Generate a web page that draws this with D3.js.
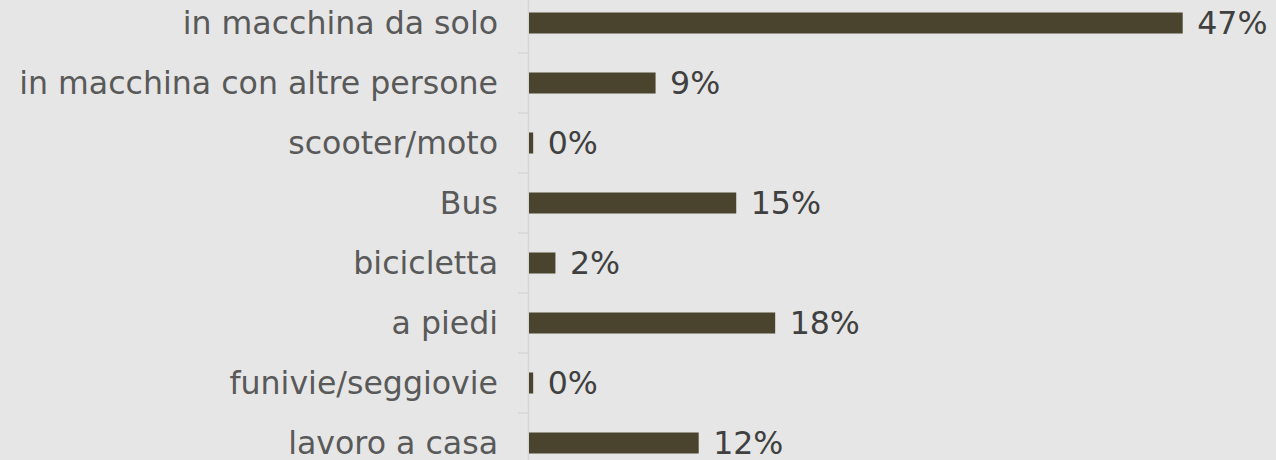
<!DOCTYPE html>
<html>
<head>
<meta charset="utf-8">
<script src="https://cdn.jsdelivr.net/npm/d3@7"></script>
<style>
  html, body { margin: 0; padding: 0; background: #e5e6e5; }
  svg { display: block; }
</style>
</head>
<body>
<svg id="chart" width="1276" height="460"></svg>
<script>
// Modes of travel and their shares (percent)
const categories = [
  "in macchina da solo",
  "in macchina con altre persone",
  "scooter/moto",
  "Bus",
  "bicicletta",
  "a piedi",
  "funivie/seggiovie",
  "lavoro a casa"
];
const shares = [47.0, 9.1, 0.3, 14.9, 1.9, 17.7, 0.3, 12.2];

const width = 1276, height = 460;
const svg = d3.select("#chart");

svg.append("rect")
  .attr("width", width).attr("height", height)
  .attr("fill", "#e5e6e5");

const x0 = 529;
const x = d3.scaleLinear().domain([0, 47]).range([x0, 1182.7]);
const y = d3.scaleBand().domain(categories).range([-7, 473]).paddingInner(0.65).paddingOuter(0.325);

// category axis with ticks between bands
const bandStep = y.step();
const boundaries = d3.range(categories.length + 1).map(i => -7 + i * bandStep);

svg.append("line")
  .attr("x1", 528.5).attr("x2", 528.5)
  .attr("y1", -7).attr("y2", 473)
  .attr("stroke", "#d6d6d6").attr("stroke-width", 1.5);

svg.selectAll("line.tick")
  .data(boundaries)
  .join("line")
  .attr("class", "tick")
  .attr("x1", 518).attr("x2", 528)
  .attr("y1", d => d).attr("y2", d => d)
  .attr("stroke", "#d6d6d6").attr("stroke-width", 1.5);

// bars
svg.selectAll("rect.bar")
  .data(categories)
  .join("rect")
  .attr("class", "bar")
  .attr("x", x0)
  .attr("y", d => y(d))
  .attr("width", (d, i) => x(shares[i]) - x0)
  .attr("height", y.bandwidth())
  .attr("fill", "#4a432d");

const font = "'DejaVu Sans', Verdana, sans-serif";

// category labels
svg.selectAll("text.cat")
  .data(categories)
  .join("text")
  .attr("class", "cat")
  .attr("x", 498)
  .attr("y", d => y(d) + y.bandwidth() / 2)
  .attr("dy", "0.36em")
  .attr("text-anchor", "end")
  .attr("font-family", font)
  .attr("font-size", 31.6)
  .attr("fill", "#595959")
  .text(d => d);

// value labels
svg.selectAll("text.val")
  .data(categories)
  .join("text")
  .attr("class", "val")
  .attr("x", (d, i) => x(shares[i]) + 14.5)
  .attr("y", d => y(d) + y.bandwidth() / 2)
  .attr("dy", "0.36em")
  .attr("font-family", font)
  .attr("font-size", 31.6)
  .attr("fill", "#404040")
  .text((d, i) => Math.round(shares[i]) + "%");
</script>
</body>
</html>
